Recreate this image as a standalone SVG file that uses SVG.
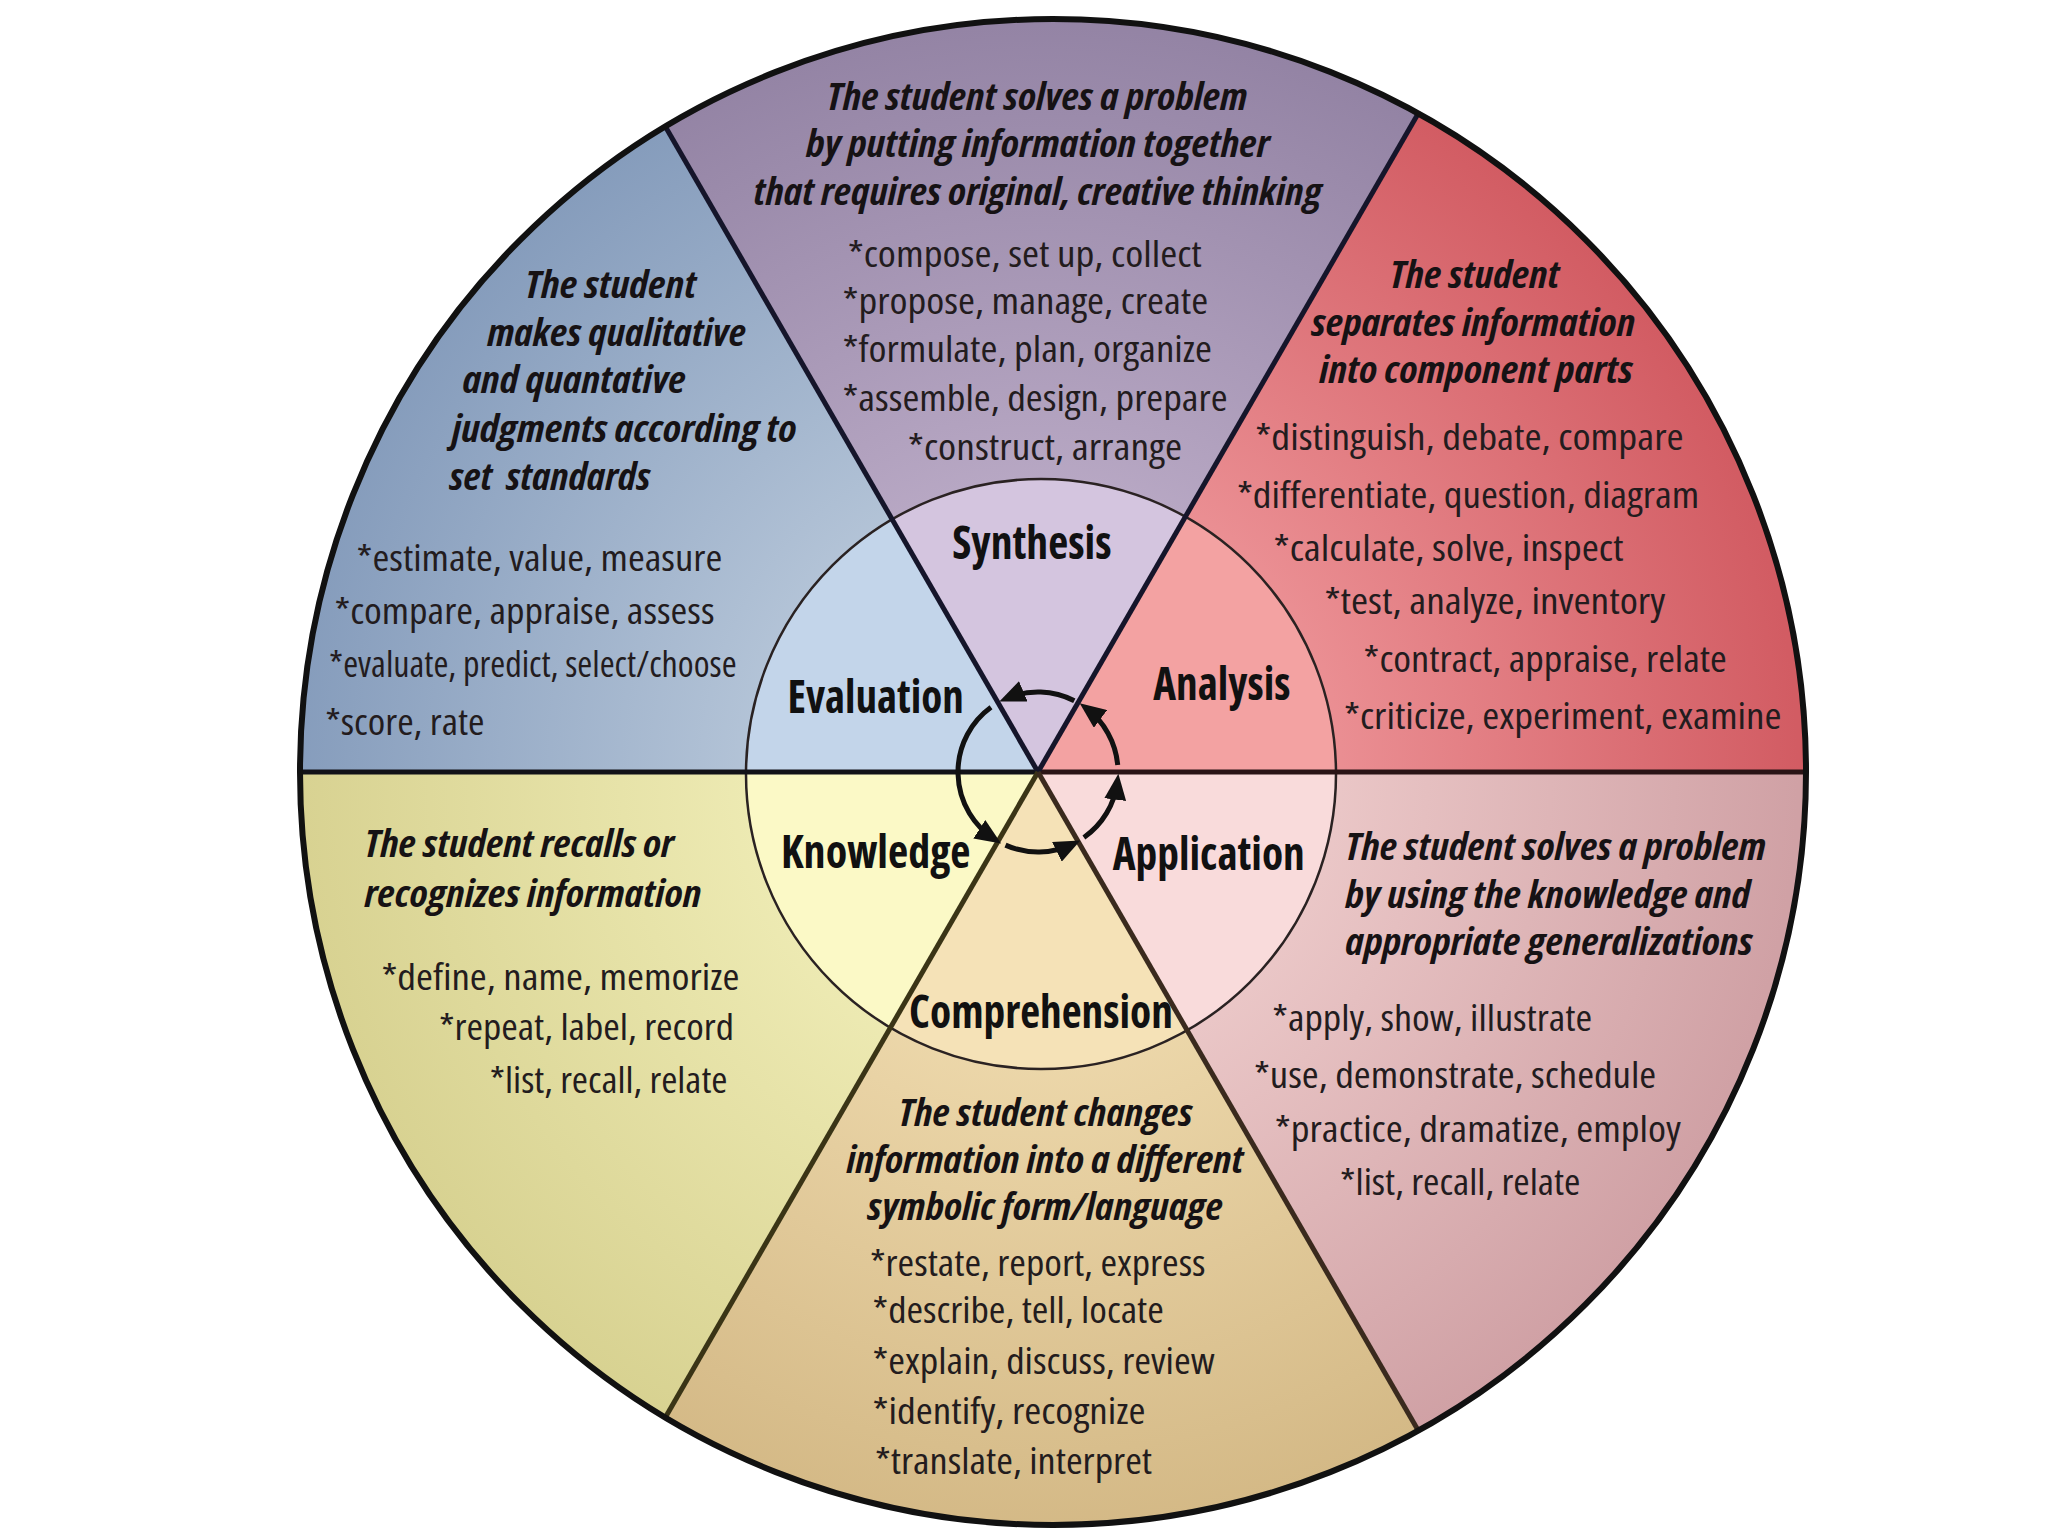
<svg xmlns="http://www.w3.org/2000/svg" width="2048" height="1536" viewBox="0 0 2048 1536">
<style>
.h{font-family:"Open Sans","Noto Sans","Liberation Sans",sans-serif;font-stretch:condensed;font-weight:700;font-style:italic;font-size:38px;fill:#161214}
.l{font-family:"Open Sans","Noto Sans","Liberation Sans",sans-serif;font-stretch:condensed;font-weight:400;font-size:36px;fill:#231c1e}
.c{font-family:"Open Sans","Noto Sans","Liberation Sans",sans-serif;font-stretch:condensed;font-weight:700;font-size:46px;fill:#111}
.div{fill:none;stroke-width:5}
.arr{fill:none;stroke:#111;stroke-width:5;marker-end:url(#ah)}
</style>
<defs>
<clipPath id="outerClip"><circle cx="1053" cy="772" r="753"/></clipPath>
<clipPath id="innerClip"><circle cx="1041" cy="774" r="295"/></clipPath>
<radialGradient id="gEval" gradientUnits="userSpaceOnUse" cx="1038" cy="772" r="760"><stop offset="0.35" stop-color="#b5c5d8"/><stop offset="1" stop-color="#849bbb"/></radialGradient>
<radialGradient id="gSyn" gradientUnits="userSpaceOnUse" cx="1038" cy="772" r="760"><stop offset="0.35" stop-color="#b9a9c5"/><stop offset="1" stop-color="#9383a4"/></radialGradient>
<radialGradient id="gAna" gradientUnits="userSpaceOnUse" cx="1038" cy="772" r="760"><stop offset="0.35" stop-color="#ec9296"/><stop offset="1" stop-color="#d25c63"/></radialGradient>
<radialGradient id="gApp" gradientUnits="userSpaceOnUse" cx="1038" cy="772" r="760"><stop offset="0.35" stop-color="#ecc9c9"/><stop offset="1" stop-color="#d0a1a5"/></radialGradient>
<radialGradient id="gCom" gradientUnits="userSpaceOnUse" cx="1038" cy="772" r="760"><stop offset="0.35" stop-color="#edd8ab"/><stop offset="1" stop-color="#d4b986"/></radialGradient>
<radialGradient id="gKno" gradientUnits="userSpaceOnUse" cx="1038" cy="772" r="760"><stop offset="0.35" stop-color="#eeebb4"/><stop offset="1" stop-color="#d7d190"/></radialGradient>
<marker id="ah" markerUnits="userSpaceOnUse" markerWidth="26" markerHeight="22" viewBox="0 0 26 22" refX="18" refY="11" orient="auto"><path d="M0,0 L26,11 L0,22 z" fill="#111"/></marker>
</defs>
<rect width="2048" height="1536" fill="#ffffff"/>

<g id="synthesis">
<path d="M1038,772 L538,-94 L1538,-94 Z" fill="url(#gSyn)" clip-path="url(#outerClip)"/>
<path d="M1038,772 L538,-94 L1538,-94 Z" fill="#d4c5df" clip-path="url(#innerClip)"/>
<text class="h" x="826.8" y="110" textLength="420.6" lengthAdjust="spacingAndGlyphs">The student solves a problem</text>
<text class="h" x="805.9" y="157" textLength="463.7" lengthAdjust="spacingAndGlyphs">by putting information together</text>
<text class="h" x="753.6" y="205" textLength="568.2" lengthAdjust="spacingAndGlyphs">that requires original, creative thinking</text>
<text class="l" x="847.7" y="267" textLength="354" lengthAdjust="spacingAndGlyphs">*compose, set up, collect</text>
<text class="l" x="842.4" y="314" textLength="365.7" lengthAdjust="spacingAndGlyphs">*propose, manage, create</text>
<text class="l" x="842.4" y="362" textLength="369.6" lengthAdjust="spacingAndGlyphs">*formulate, plan, organize</text>
<text class="l" x="842.4" y="411" textLength="385.3" lengthAdjust="spacingAndGlyphs">*assemble, design, prepare</text>
<text class="l" x="907.8" y="460" textLength="274.3" lengthAdjust="spacingAndGlyphs">*construct, arrange</text>
<text class="c" x="952.2" y="559" textLength="159.3" lengthAdjust="spacingAndGlyphs">Synthesis</text>
</g>

<g id="evaluation">
<path d="M1038,772 L38,772 L538,-94 Z" fill="url(#gEval)" clip-path="url(#outerClip)"/>
<path d="M1038,772 L38,772 L538,-94 Z" fill="#c3d5ea" clip-path="url(#innerClip)"/>
<text class="h" x="525.1" y="298" textLength="171.1" lengthAdjust="spacingAndGlyphs">The student</text>
<text class="h" x="487.2" y="346" textLength="258.6" lengthAdjust="spacingAndGlyphs">makes qualitative</text>
<text class="h" x="462.4" y="393" textLength="223.3" lengthAdjust="spacingAndGlyphs">and quantative</text>
<text class="h" x="451.9" y="442" textLength="344.8" lengthAdjust="spacingAndGlyphs">judgments according to</text>
<text class="h" x="449.3" y="490" textLength="201.1" lengthAdjust="spacingAndGlyphs" xml:space="preserve">set  standards</text>
<text class="l" x="356.6" y="571" textLength="365.7" lengthAdjust="spacingAndGlyphs">*estimate, value, measure</text>
<text class="l" x="334.4" y="624" textLength="380.1" lengthAdjust="spacingAndGlyphs">*compare, appraise, assess</text>
<text class="l" x="329.1" y="677" textLength="407.5" lengthAdjust="spacingAndGlyphs">*evaluate, predict, select/choose</text>
<text class="l" x="325.2" y="735" textLength="159.3" lengthAdjust="spacingAndGlyphs">*score, rate</text>
<text class="c" x="787.6" y="713" textLength="176.3" lengthAdjust="spacingAndGlyphs">Evaluation</text>
</g>

<g id="analysis">
<path d="M1038,772 L1538,-94 L2038,772 Z" fill="url(#gAna)" clip-path="url(#outerClip)"/>
<path d="M1038,772 L1538,-94 L2038,772 Z" fill="#f3a2a2" clip-path="url(#innerClip)"/>
<text class="h" x="1389.7" y="288" textLength="169.8" lengthAdjust="spacingAndGlyphs">The student</text>
<text class="h" x="1311.3" y="336" textLength="323.9" lengthAdjust="spacingAndGlyphs">separates information</text>
<text class="h" x="1319.2" y="383" textLength="313.5" lengthAdjust="spacingAndGlyphs">into component parts</text>
<text class="l" x="1255.2" y="450" textLength="428.4" lengthAdjust="spacingAndGlyphs">*distinguish, debate, compare</text>
<text class="l" x="1236.9" y="508" textLength="462.4" lengthAdjust="spacingAndGlyphs">*differentiate, question, diagram</text>
<text class="l" x="1273.5" y="561" textLength="350" lengthAdjust="spacingAndGlyphs">*calculate, solve, inspect</text>
<text class="l" x="1324.4" y="614" textLength="340.9" lengthAdjust="spacingAndGlyphs">*test, analyze, inventory</text>
<text class="l" x="1363.6" y="672" textLength="363.1" lengthAdjust="spacingAndGlyphs">*contract, appraise, relate</text>
<text class="l" x="1344" y="729" textLength="437.5" lengthAdjust="spacingAndGlyphs">*criticize, experiment, examine</text>
<text class="c" x="1153.3" y="700" textLength="137.1" lengthAdjust="spacingAndGlyphs">Analysis</text>
</g>

<g id="application">
<path d="M1038,772 L2038,772 L1538,1638 Z" fill="url(#gApp)" clip-path="url(#outerClip)"/>
<path d="M1038,772 L2038,772 L1538,1638 Z" fill="#f9dbdb" clip-path="url(#innerClip)"/>
<text class="h" x="1345.3" y="860" textLength="420.6" lengthAdjust="spacingAndGlyphs">The student solves a problem</text>
<text class="h" x="1345.3" y="908" textLength="404.9" lengthAdjust="spacingAndGlyphs">by using the knowledge and</text>
<text class="h" x="1345.3" y="955" textLength="407.5" lengthAdjust="spacingAndGlyphs">appropriate generalizations</text>
<text class="l" x="1272.2" y="1031" textLength="320" lengthAdjust="spacingAndGlyphs">*apply, show, illustrate</text>
<text class="l" x="1253.9" y="1088" textLength="402.3" lengthAdjust="spacingAndGlyphs">*use, demonstrate, schedule</text>
<text class="l" x="1274.8" y="1142" textLength="406.2" lengthAdjust="spacingAndGlyphs">*practice, dramatize, employ</text>
<text class="l" x="1340.1" y="1195" textLength="240.3" lengthAdjust="spacingAndGlyphs">*list, recall, relate</text>
<text class="c" x="1112.8" y="870" textLength="192" lengthAdjust="spacingAndGlyphs">Application</text>
</g>

<g id="comprehension">
<path d="M1038,772 L1538,1638 L538,1638 Z" fill="url(#gCom)" clip-path="url(#outerClip)"/>
<path d="M1038,772 L1538,1638 L538,1638 Z" fill="#f5e2b7" clip-path="url(#innerClip)"/>
<text class="h" x="898.6" y="1126" textLength="293.9" lengthAdjust="spacingAndGlyphs">The student changes</text>
<text class="h" x="846.4" y="1173" textLength="397.1" lengthAdjust="spacingAndGlyphs">information into a different</text>
<text class="h" x="867.3" y="1220" textLength="355.3" lengthAdjust="spacingAndGlyphs">symbolic form/language</text>
<text class="l" x="869.9" y="1276" textLength="335.7" lengthAdjust="spacingAndGlyphs">*restate, report, express</text>
<text class="l" x="872.5" y="1323" textLength="291.3" lengthAdjust="spacingAndGlyphs">*describe, tell, locate</text>
<text class="l" x="872.5" y="1374" textLength="342.2" lengthAdjust="spacingAndGlyphs">*explain, discuss, review</text>
<text class="l" x="872.5" y="1424" textLength="273" lengthAdjust="spacingAndGlyphs">*identify, recognize</text>
<text class="l" x="875.1" y="1474" textLength="276.9" lengthAdjust="spacingAndGlyphs">*translate, interpret</text>
<text class="c" x="909.1" y="1028" textLength="263.8" lengthAdjust="spacingAndGlyphs">Comprehension</text>
</g>

<g id="knowledge">
<path d="M1038,772 L538,1638 L38,772 Z" fill="url(#gKno)" clip-path="url(#outerClip)"/>
<path d="M1038,772 L538,1638 L38,772 Z" fill="#fbf9c6" clip-path="url(#innerClip)"/>
<text class="h" x="364.4" y="857" textLength="309.5" lengthAdjust="spacingAndGlyphs">The student recalls or</text>
<text class="h" x="364.4" y="907" textLength="337" lengthAdjust="spacingAndGlyphs">recognizes information</text>
<text class="l" x="381.4" y="990" textLength="357.9" lengthAdjust="spacingAndGlyphs">*define, name, memorize</text>
<text class="l" x="438.9" y="1040" textLength="295.2" lengthAdjust="spacingAndGlyphs">*repeat, label, record</text>
<text class="l" x="489.8" y="1093" textLength="237.7" lengthAdjust="spacingAndGlyphs">*list, recall, relate</text>
<text class="c" x="781.1" y="868" textLength="189.4" lengthAdjust="spacingAndGlyphs">Knowledge</text>
</g>

<g id="frame">
<circle cx="1041" cy="774" r="295" fill="none" stroke="#2a2222" stroke-width="2.5"/>
<g clip-path="url(#outerClip)">
<line class="div" x1="38" y1="772" x2="1038" y2="772" stroke="#121218" stroke-width="6"/>
<line class="div" x1="1038" y1="772" x2="2038" y2="772" stroke="#2a1416" stroke-width="6"/>
<line class="div" x1="1038" y1="772" x2="538" y2="-94" stroke="#15152a"/>
<line class="div" x1="1038" y1="772" x2="1538" y2="-94" stroke="#15152a"/>
<line class="div" x1="1038" y1="772" x2="538" y2="1638" stroke="#3a3416"/>
<line class="div" x1="1038" y1="772" x2="1538" y2="1638" stroke="#3a2a1e"/>
</g>
<circle cx="1053" cy="772" r="753" fill="none" stroke="#111" stroke-width="6"/>
</g>

<g id="connectors">
<path class="arr" d="M1074.3,700.7 A80,80 0 0 0 1006.7,698.3"/>
<path class="arr" d="M991,707.3 A80,80 0 0 0 994.4,839.1"/>
<path class="arr" d="M1005.5,845.1 A80,80 0 0 0 1073.1,843.9"/>
<path class="arr" d="M1083.9,837.5 A80,80 0 0 0 1117.4,781.7"/>
<path class="arr" d="M1117.7,765 A80,80 0 0 0 1086.1,708.1"/>
</g>
</svg>
